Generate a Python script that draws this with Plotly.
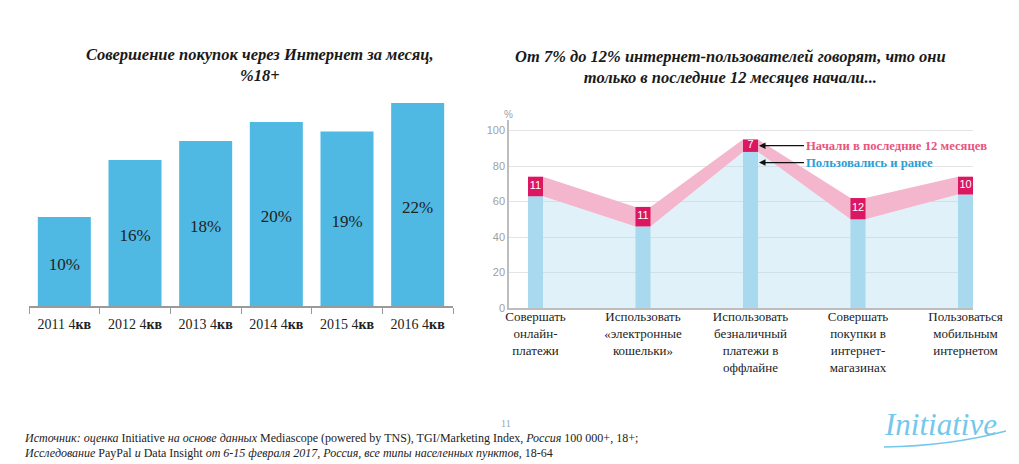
import plotly.graph_objects as go

W, H = 1019, 464

# ---------------- data ----------------
years = ["2011", "2012", "2013", "2014", "2015", "2016"]
online_purchase_share = [10, 16, 18, 20, 19, 22]

actions = [
    "Совершать<br>онлайн-<br>платежи",
    "Использовать<br>«электронные<br>кошельки»",
    "Использовать<br>безналичный<br>платежи в<br>оффлайне",
    "Совершать<br>покупки в<br>интернет-<br>магазинах",
    "Пользоваться<br>мобильным<br>интернетом",
]
used_before = [63, 46, 88, 50, 64]
started_last_12m = [11, 11, 7, 12, 10]
y_ticks = [0, 20, 40, 60, 80, 100]

# ---------------- style ----------------
BAR_W = 0.14
SERIF = "Liberation Serif, serif"
SANS = "Liberation Sans, Arial, sans-serif"


def px(x):
    return x / W


def py(y):
    return 1 - y / H


fig = go.Figure()

# left chart bars
fig.add_trace(go.Bar(
    x=years, y=online_purchase_share,
    text=[f"{v}%" for v in online_purchase_share],
    textposition="inside", insidetextanchor="middle",
    textfont=dict(family=SERIF, size=17, color="#222"),
    marker=dict(color="#4FB9E3", line=dict(width=0)),
    xaxis="x", yaxis="y", hoverinfo="skip", showlegend=False,
))

# right chart band polygons (through bar edges)
xs, lo, hi = [], [], []
for i, (b, n) in enumerate(zip(used_before, started_last_12m)):
    xs += [i - BAR_W / 2, i + BAR_W / 2]
    lo += [b, b]
    hi += [b + n, b + n]

fig.add_trace(go.Scatter(
    x=xs, y=lo, mode="lines", line=dict(width=0),
    fill="tozeroy", fillcolor="rgba(172,216,238,0.36)",
    xaxis="x2", yaxis="y2", hoverinfo="skip", showlegend=False,
))
fig.add_trace(go.Scatter(
    x=xs, y=hi, mode="lines", line=dict(width=0),
    fill="tonexty", fillcolor="#F3B6CC",
    xaxis="x2", yaxis="y2", hoverinfo="skip", showlegend=False,
))

idx = list(range(len(actions)))
fig.add_trace(go.Bar(
    x=idx, y=used_before, width=BAR_W,
    marker=dict(color="#A9D9EE", line=dict(width=0)),
    xaxis="x3", yaxis="y3", hoverinfo="skip", showlegend=False,
))
fig.add_trace(go.Bar(
    x=idx, y=started_last_12m, base=used_before, width=BAR_W,
    marker=dict(color="#DC1762", line=dict(width=0)),
    xaxis="x3", yaxis="y3", hoverinfo="skip", showlegend=False,
))
fig.add_trace(go.Scatter(
    x=idx, y=[b + n / 2 for b, n in zip(used_before, started_last_12m)],
    text=[str(n) for n in started_last_12m], mode="text",
    textfont=dict(family=SANS, size=11, color="white"),
    xaxis="x3", yaxis="y3", hoverinfo="skip", showlegend=False,
))

x2_range = [-0.2465, 4.0698]
y2_range = [0, 106]

fig.update_layout(
    width=W, height=H, autosize=False,
    margin=dict(l=0, r=0, t=0, b=0, autoexpand=False),
    paper_bgcolor="white", plot_bgcolor="rgba(0,0,0,0)",
    barmode="overlay", bargap=0.25,
    xaxis=dict(
        domain=[px(29), px(453)], type="category", anchor="y", automargin=False,
        tickvals=years, ticktext=[f"{y} 4<b>кв</b>" for y in years], tickangle=0,
        showline=True, linecolor="#9a9a9a", linewidth=1.5,
        ticks="outside", tickson="boundaries", ticklen=6, tickcolor="#9a9a9a",
        tickfont=dict(family=SERIF, size=14, color="#222"),
        ticklabelstandoff=4,
        showgrid=False, zeroline=False,
    ),
    yaxis=dict(
        domain=[py(306), py(100)], range=[0.63, 22.31], anchor="x",
        visible=False, automargin=False,
    ),
    xaxis2=dict(
        domain=[px(509), px(973)], range=x2_range, anchor="y2", automargin=False,
        tickvals=idx, ticktext=actions, tickangle=0,
        tickfont=dict(family=SERIF, size=13, color="#222"),
        ticklabelstandoff=-4,
        showline=True, linecolor="#bdbdbd", linewidth=1.5,
        showgrid=False, zeroline=False, ticks="",
    ),
    yaxis2=dict(
        domain=[py(308), py(120)], range=y2_range, anchor="x2", automargin=False,
        tickvals=y_ticks, showgrid=True, gridcolor="#e4e4e4",
        showline=True, linecolor="#bdbdbd", linewidth=1.5, zeroline=False,
        tickfont=dict(family=SANS, size=11, color="#a0a0a0"),
    ),
    xaxis3=dict(overlaying="x2", range=x2_range, anchor="y3", visible=False,
                automargin=False),
    yaxis3=dict(overlaying="y2", range=y2_range, anchor="x3", visible=False,
                automargin=False),
)

ann = []
ann.append(dict(
    xref="paper", yref="paper", x=px(260), y=py(65), showarrow=False,
    text="<b><i>Совершение покупок через Интернет за месяц,<br>%18+</i></b>",
    font=dict(family=SERIF, size=16.5, color="#1a1a1a"),
    align="center", xanchor="center", yanchor="middle",
))
ann.append(dict(
    xref="paper", yref="paper", x=px(730), y=py(67), showarrow=False,
    text="<b><i>От 7% до 12% интернет-пользователей говорят, что они<br>"
         "только в последние 12 месяцев начали...</i></b>",
    font=dict(family=SERIF, size=16.5, color="#1a1a1a"),
    align="center", xanchor="center", yanchor="middle",
))
ann.append(dict(
    xref="paper", yref="paper", x=px(508), y=py(115), showarrow=False,
    text="%", font=dict(family=SANS, size=10, color="#a0a0a0"),
    xanchor="center", yanchor="middle",
))
# legend-like callouts pointing at the third column
k = 2
ann.append(dict(
    xref="x2", yref="y2", x=k + BAR_W / 2, y=used_before[k] + started_last_12m[k] / 2,
    ax=46, ay=0, showarrow=True, arrowhead=2, arrowsize=1, arrowwidth=1.3,
    arrowcolor="#111", standoff=1, xanchor="left", yanchor="middle",
    text="<b>Начали в последние 12 месяцев</b>",
    font=dict(family=SERIF, size=12.7, color="#E9547D"),
))
ann.append(dict(
    xref="x2", yref="y2", x=k + BAR_W / 2, y=used_before[k] - 6,
    ax=46, ay=0, showarrow=True, arrowhead=2, arrowsize=1, arrowwidth=1.3,
    arrowcolor="#111", standoff=1, xanchor="left", yanchor="middle",
    text="<b>Пользовались и ранее</b>",
    font=dict(family=SERIF, size=12.7, color="#2A9FD8"),
))
# footer
foot_font = dict(family=SERIF, size=12, color="#222")
ann.append(dict(
    xref="paper", yref="paper", x=px(22), y=py(438), showarrow=False,
    xanchor="left", yanchor="middle", font=foot_font,
    text="<i>Источник: оценка</i> Initiative <i>на основе данных</i> Mediascope "
         "(powered by TNS), TGI/Marketing Index, <i>Россия</i> 100 000+, 18+;",
))
ann.append(dict(
    xref="paper", yref="paper", x=px(22), y=py(453), showarrow=False,
    xanchor="left", yanchor="middle", font=foot_font,
    text="<i>Исследование</i> PayPal <i>и</i> Data Insight <i>от 6-15 февраля 2017, "
         "Россия, все типы населенных пунктов,</i> 18-64",
))
ann.append(dict(
    xref="paper", yref="paper", x=px(506), y=py(423), showarrow=False,
    xanchor="center", yanchor="middle", text="11",
    font=dict(family=SERIF, size=10, color="#8fa6b8"),
))
ann.append(dict(
    xref="paper", yref="paper", x=px(940), y=py(424), showarrow=False,
    xanchor="center", yanchor="middle", text="<i>Initiative</i>",
    font=dict(family=SERIF, size=31, color="#74C7EC"),
))
fig.update_layout(annotations=ann)

fig.add_shape(
    type="path", xref="paper", yref="paper",
    path=f"M {px(884)},{py(447)} Q {px(950)},{py(446)} {px(1006)},{py(431)}",
    line=dict(color="#74C7EC", width=1.5),
)

fig.write_html(
    "out.html",
    config={"displayModeBar": False},
    post_script="document.body.style.margin='0';document.body.style.overflow='hidden';",
)
